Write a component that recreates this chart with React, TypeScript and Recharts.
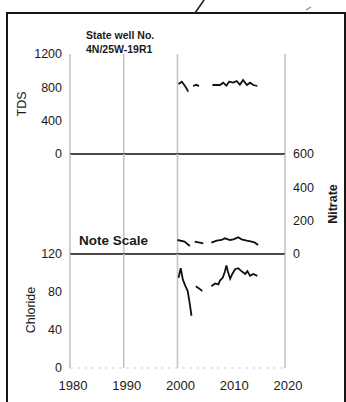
import { LineChart, Line, XAxis, YAxis, ReferenceLine } from 'recharts';

// Sampling dates (decimal years) and values; null marks a gap in the record
const tdsYears = [2000.2, 2000.8, 2001.4, 2002.0, 2002.5, 2002.9, 2003.5, 2004.0, 2005.0, 2006.5, 2007.9, 2008.5, 2009.1, 2009.6, 2010.4, 2011.0, 2011.6, 2012.2, 2012.9, 2013.5, 2014.1, 2014.85];
const tdsValues = [840, 868, 816, 748, null, 816, 830, 815, null, 828, 828, 856, 820, 868, 856, 876, 832, 888, 828, 856, 828, 816];

const nitrateYears = [2000.0, 2001.3, 2002.3, 2002.7, 2003.2, 2004.8, 2005.5, 2006.3, 2007.3, 2008.2, 2008.8, 2009.8, 2010.4, 2011.3, 2011.9, 2012.9, 2013.8, 2014.4, 2015.0];
const nitrateValues = [84, 74, 48, null, 74, 64, null, 68, 80, 84, 94, 84, 88, 100, 88, 80, 74, 68, 54];

const chlorideYears = [2000.2, 2000.6, 2001.0, 2001.5, 2001.9, 2002.3, 2002.6, 2003.0, 2003.4, 2004.2, 2004.6, 2005.5, 2006.3, 2007.0, 2007.6, 2007.9, 2008.4, 2008.8, 2009.1, 2009.4, 2009.8, 2010.2, 2010.7, 2011.3, 2011.9, 2012.6, 2013.0, 2013.5, 2014.1, 2014.85];
const chlorideValues = [95, 105, 93, 86, 81, 67, 55, null, 86, 83, 81, null, 86, 89, 88, 92, 95, 101, 108, 101, 94, 99, 104, 105, 102, 99, 102, 97, 99, 97];

const yearTicks = [1980, 1990, 2000, 2010, 2020];
const gridYears = [1980, 1990, 2000, 2020];
const tdsTicks = [0, 400, 800, 1200];
const nitrateTicks = [0, 200, 400, 600];
const chlorideTicks = [0, 40, 80, 120];

const zip = (years: number[], values: (number | null)[]) =>
  years.map((year, i) => ({ year, value: values[i] }));

const tdsData = zip(tdsYears, tdsValues);
const nitrateData = zip(nitrateYears, nitrateValues);
const chlorideData = zip(chlorideYears, chlorideValues);

const FONT = '"Liberation Sans", Arial, sans-serif';
const tickStyle = { fontSize: 12.5, fill: '#1a1a1a', fontFamily: FONT };
const gridColor = '#c4c4c4';
const lineColor = '#111';

const gridLines = () =>
  gridYears.map((y) => (
    <ReferenceLine key={y} x={y} stroke={gridColor} strokeWidth={1.6} />
  ));

const App = () => {
  return (
    <div
      style={{
        position: 'absolute',
        left: 0,
        top: 0,
        width: 346,
        height: 402,
        overflow: 'hidden',
        background: '#fff',
        fontFamily: FONT,
      }}>
      {/* frame */}
      <div
        style={{
          position: 'absolute',
          left: 6,
          top: 12,
          width: 336,
          height: 420,
          borderTop: '2px solid #161616',
          borderLeft: '2px solid #161616',
          borderRight: '2px solid #161616',
        }}
      />
      <svg
        width={346}
        height={402}
        style={{ position: 'absolute', left: 0, top: 0 }}>
        <line x1={195} y1={13} x2={204} y2={0} stroke='#222' strokeWidth={1.6} />
        <line x1={306} y1={10} x2={311} y2={7} stroke='#888' strokeWidth={1.2} />
      </svg>

      {/* TDS panel */}
      <div style={{ position: 'absolute', left: 0, top: 44 }}>
        <LineChart
          width={346}
          height={120}
          data={tdsData}
          margin={{ top: 10, right: 61, bottom: 10, left: 0 }}>
          <XAxis dataKey='year' type='number' domain={[1980, 2020]} hide />
          <YAxis
            width={70}
            domain={[0, 1200]}
            ticks={tdsTicks}
            interval={0}
            tickSize={0}
            tickMargin={8}
            axisLine={false}
            tickLine={false}
            tick={tickStyle}
          />
          {gridLines()}
          <ReferenceLine y={0} stroke='#4a4a4a' strokeWidth={2} />
          <Line
            dataKey='value'
            type='linear'
            stroke={lineColor}
            strokeWidth={1.8}
            dot={false}
            connectNulls={false}
            isAnimationActive={false}
          />
        </LineChart>
      </div>

      {/* Nitrate panel */}
      <div style={{ position: 'absolute', left: 0, top: 144 }}>
        <LineChart
          width={346}
          height={120}
          data={nitrateData}
          margin={{ top: 10, right: 0, bottom: 10, left: 70 }}>
          <XAxis dataKey='year' type='number' domain={[1980, 2020]} hide />
          <YAxis
            orientation='right'
            width={61}
            domain={[0, 600]}
            ticks={nitrateTicks}
            interval={0}
            tickSize={0}
            tickMargin={8}
            axisLine={false}
            tickLine={false}
            tick={tickStyle}
          />
          {gridLines()}
          <ReferenceLine y={0} stroke='#4a4a4a' strokeWidth={2} />
          <Line
            dataKey='value'
            type='linear'
            stroke={lineColor}
            strokeWidth={1.8}
            dot={false}
            connectNulls={false}
            isAnimationActive={false}
          />
        </LineChart>
      </div>

      {/* Chloride panel */}
      <div style={{ position: 'absolute', left: 0, top: 244 }}>
        <LineChart
          width={346}
          height={158}
          data={chlorideData}
          margin={{ top: 10, right: 61, bottom: 0, left: 0 }}>
          <XAxis
            dataKey='year'
            type='number'
            domain={[1980, 2020]}
            ticks={yearTicks}
            interval={0}
            height={34}
            tickSize={0}
            tickMargin={13}
            axisLine={false}
            tickLine={false}
            tick={{ ...tickStyle, fontSize: 13, dx: 3 }}
          />
          <YAxis
            width={70}
            domain={[0, 120]}
            ticks={chlorideTicks}
            interval={0}
            tickSize={0}
            tickMargin={8}
            axisLine={false}
            tickLine={false}
            tick={tickStyle}
          />
          {gridLines()}
          <ReferenceLine
            y={0}
            stroke='#cfcfcf'
            strokeWidth={1.2}
            strokeDasharray='3 4'
          />
          <Line
            dataKey='value'
            type='linear'
            stroke={lineColor}
            strokeWidth={1.8}
            dot={false}
            connectNulls={false}
            isAnimationActive={false}
          />
        </LineChart>
      </div>

      {/* labels */}
      <svg
        width={346}
        height={402}
        style={{ position: 'absolute', left: 0, top: 0, pointerEvents: 'none' }}
        fontFamily={FONT}>
        <text x={86} y={38.5} fontSize={10.5} fontWeight='bold' fill='#1a1a1a'>
          State well No.
        </text>
        <text x={86} y={53} fontSize={10.5} fontWeight='bold' fill='#1a1a1a'>
          4N/25W-19R1
        </text>
        <text x={79} y={245} fontSize={13.5} fontWeight='bold' fill='#1a1a1a'>
          Note Scale
        </text>
        <text
          x={0}
          y={0}
          fontSize={12.5}
          fill='#1a1a1a'
          textAnchor='middle'
          transform='translate(26 104) rotate(-90)'>
          TDS
        </text>
        <text
          x={0}
          y={0}
          fontSize={12.5}
          fill='#1a1a1a'
          textAnchor='middle'
          transform='translate(35 310) rotate(-90)'>
          Chloride
        </text>
        <text
          x={0}
          y={0}
          fontSize={12.5}
          fontWeight='bold'
          fill='#1a1a1a'
          textAnchor='middle'
          transform='translate(337 204) rotate(-90)'>
          Nitrate
        </text>
      </svg>
    </div>
  );
};

export default App;
